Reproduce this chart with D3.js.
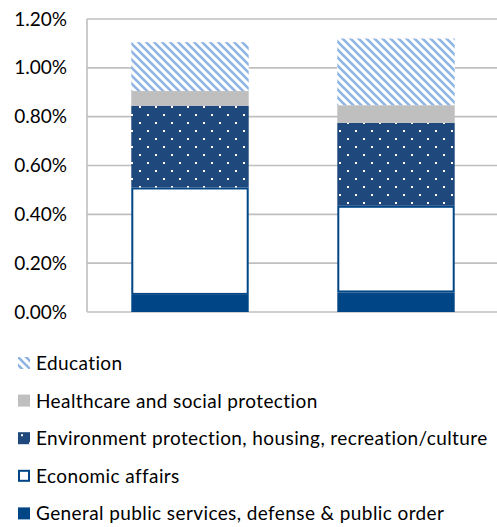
<!DOCTYPE html>
<html>
<head>
<meta charset="utf-8">
<script src="https://cdn.jsdelivr.net/npm/d3@7"></script>
<style>
  body { margin: 0; background: #fff; }
  text { font-family: Lato, "Liberation Sans", sans-serif; fill: #000; }
</style>
</head>
<body>
<div id="viz-container"></div>
<script>
// chart data, values in percent
let categories = ["A", "B"];
let seriesNames = [
  "General public services, defense & public order",
  "Economic affairs",
  "Environment protection, housing, recreation/culture",
  "Healthcare and social protection",
  "Education"
];
let generalPublic = [0.07, 0.08];
let economicAffairs = [0.44, 0.355];
let environment = [0.335, 0.34];
let healthcare = [0.06, 0.072];
let education = [0.20, 0.273];
let yTicks = [0, 0.2, 0.4, 0.6, 0.8, 1.0, 1.2];

let W = 497, H = 527;
let margin = {left: 87, top: 19, right: -2, bottom: 215};

let viz = d3.select("#viz-container")
  .append("svg")
    .attr("width", W)
    .attr("height", H);

// patterns
let defs = viz.append("defs");
let stripes = defs.append("pattern")
  .attr("id", "stripes")
  .attr("patternUnits", "userSpaceOnUse")
  .attr("width", 8).attr("height", 8);
stripes.append("rect").attr("width", 8).attr("height", 8).attr("fill", "#fff");
stripes.append("path")
  .attr("d", "M-2,-2 L10,10 M-2,6 L2,10 M6,-2 L10,2")
  .attr("stroke", "#8eb4e3").attr("stroke-width", 2.6);

let dots = defs.append("pattern")
  .attr("id", "dots")
  .attr("patternUnits", "userSpaceOnUse")
  .attr("width", 16).attr("height", 16)
  .attr("x", 3).attr("y", 2);
dots.append("rect").attr("width", 16).attr("height", 16).attr("fill", "#1f497d");
dots.append("rect").attr("x", 0).attr("y", 0).attr("width", 2).attr("height", 2).attr("fill", "#fff");
dots.append("rect").attr("x", 8).attr("y", 8).attr("width", 2).attr("height", 2).attr("fill", "#fff");

let fills = ["#004586", "#ffffff", "url(#dots)", "#bfbfbf", "url(#stripes)"];
let strokes = ["none", "#004586", "none", "none", "none"];

let x = d3.scaleBand()
  .domain(categories)
  .range([margin.left, W - margin.right])
  .paddingInner(0.43)
  .paddingOuter(0.215);

let y = d3.scaleLinear()
  .domain([0, 1.2])
  .range([H - margin.bottom, margin.top]);

// gridlines
viz.append("g").selectAll("line").data(yTicks).enter().append("line")
  .attr("x1", margin.left).attr("x2", W)
  .attr("y1", d => y(d)).attr("y2", d => y(d))
  .attr("stroke", "#bfbfbf").attr("stroke-width", 1.6);

viz.append("line")
  .attr("x1", margin.left).attr("x2", margin.left)
  .attr("y1", y(1.2)).attr("y2", y(0))
  .attr("stroke", "#bfbfbf").attr("stroke-width", 1.6);

// y axis labels
let yAxis = d3.axisLeft(y).tickValues(yTicks).tickSize(0).tickPadding(20)
  .tickFormat(d => d.toFixed(2) + "%");
let yg = viz.append("g").attr("transform", "translate(" + margin.left + ",0)").call(yAxis);
yg.select(".domain").remove();
yg.selectAll("text").style("font-size", "19px").style("font-family", "Lato, sans-serif").attr("fill", "#000");

// stacking
let table = categories.map((c, i) => ({
  cat: c,
  s0: generalPublic[i], s1: economicAffairs[i], s2: environment[i], s3: healthcare[i], s4: education[i]
}));
let stack = d3.stack().keys(["s0", "s1", "s2", "s3", "s4"]);
let layers = stack(table);

let layerGroups = viz.selectAll(".layer").data(layers).enter().append("g")
  .attr("class", "layer");

layerGroups.selectAll("rect").data((d, i) => d.map(v => ({v: v, k: i}))).enter().append("rect")
  .attr("x", d => x(d.v.data.cat) + (strokes[d.k] === "none" ? 0 : 1))
  .attr("width", d => x.bandwidth() - (strokes[d.k] === "none" ? 0 : 2))
  .attr("y", d => y(d.v[1]) + (strokes[d.k] === "none" ? 0 : 1))
  .attr("height", d => y(d.v[0]) - y(d.v[1]) - (strokes[d.k] === "none" ? 0 : 2))
  .attr("fill", d => fills[d.k])
  .attr("stroke", d => strokes[d.k])
  .attr("stroke-width", 2);

// legend, top entry is the last series
let legendOrder = [4, 3, 2, 1, 0];
let legend = viz.selectAll(".legend").data(legendOrder).enter().append("g")
  .attr("class", "legend")
  .attr("transform", (d, i) => "translate(18," + (357 + i * 37.6) + ")");

legend.append("rect")
  .attr("x", d => strokes[d] === "none" ? 0 : 1)
  .attr("y", d => strokes[d] === "none" ? 0 : 1)
  .attr("width", d => strokes[d] === "none" ? 12 : 10)
  .attr("height", d => strokes[d] === "none" ? 12 : 10)
  .attr("fill", d => fills[d])
  .attr("stroke", d => strokes[d])
  .attr("stroke-width", 2);

legend.append("text")
  .attr("x", 18)
  .attr("y", 13)
  .style("font-size", "19px")
  .style("letter-spacing", "0.4px")
  .text(d => seriesNames[d]);
</script>
</body>
</html>
